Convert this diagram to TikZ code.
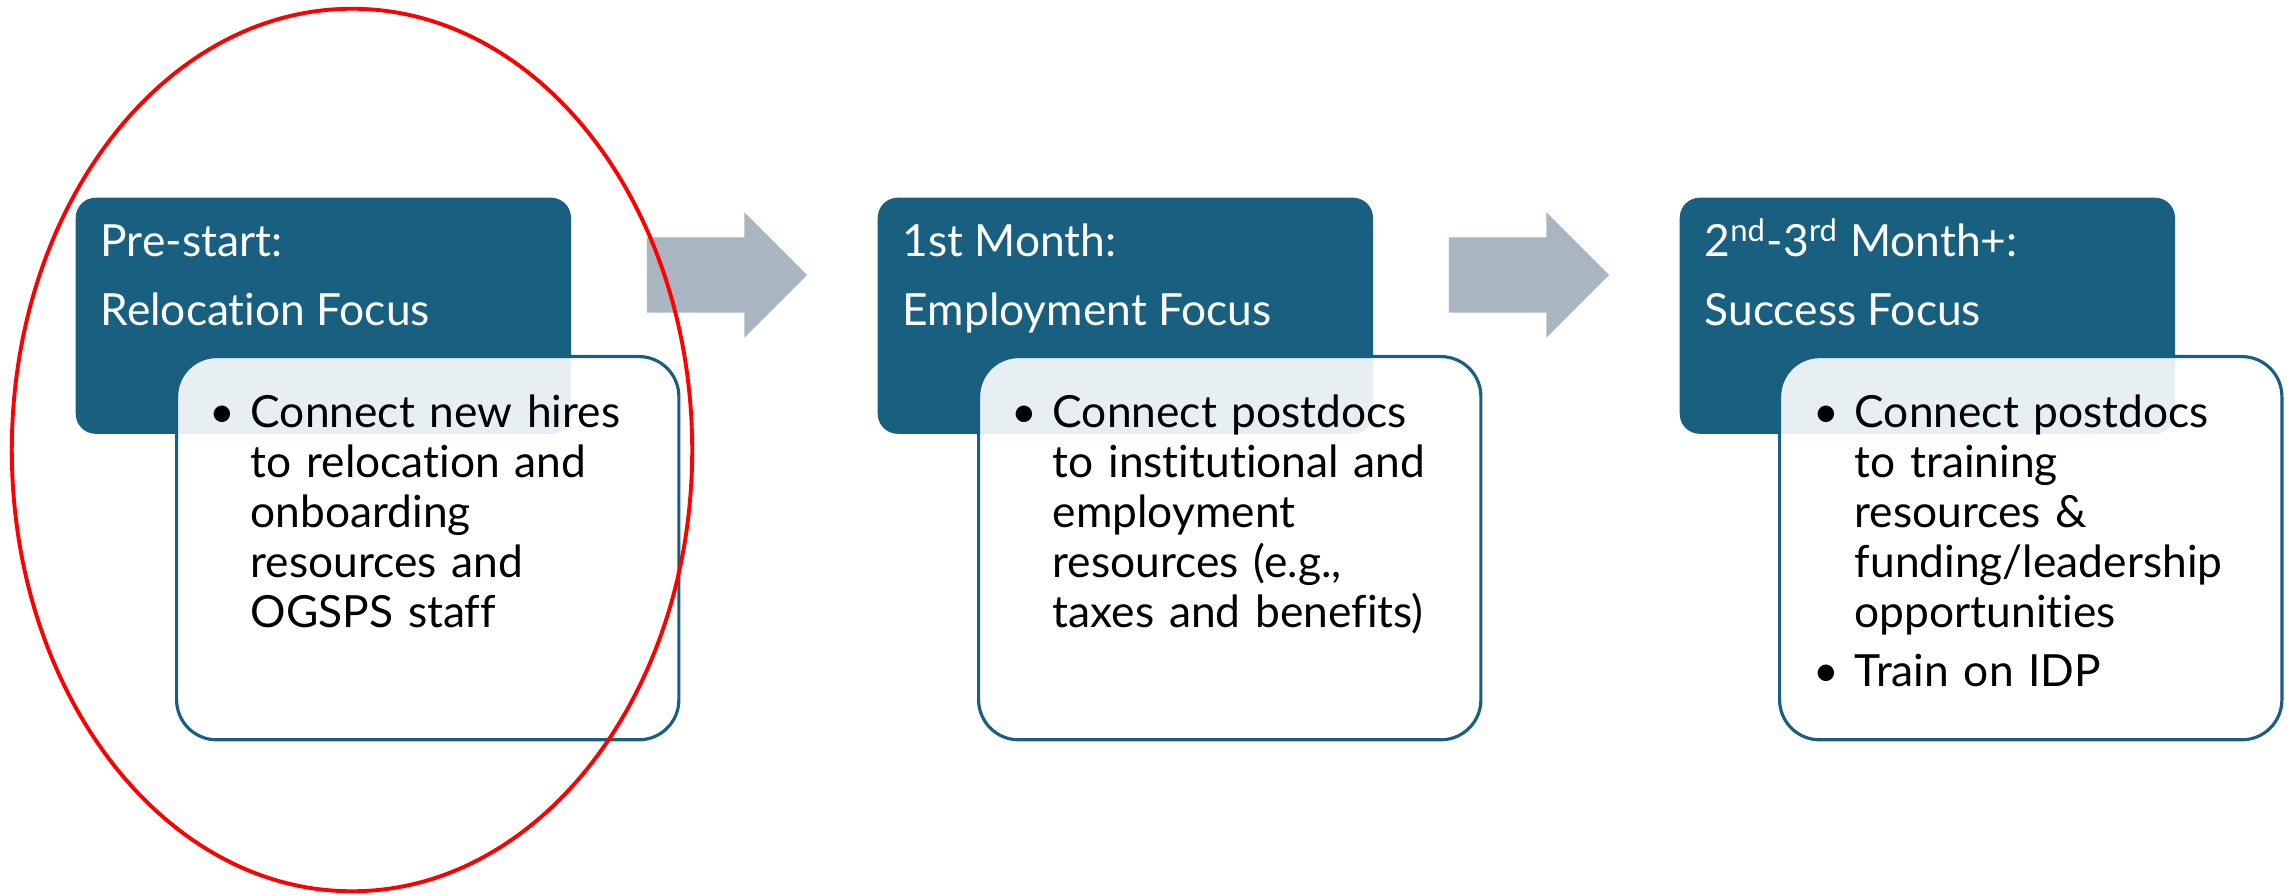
\documentclass[tikz,border=0pt]{standalone}
\usepackage{fontspec}
\setmainfont{Lato}[Ligatures=NoCommon]
\usepackage{xcolor}
\usetikzlibrary{shapes.geometric}
\usetikzlibrary{shapes.arrows}
\definecolor{stageblue}{HTML}{195F80}
\definecolor{arrowgray}{HTML}{A9B5C0}
\tikzset{headbox/.style={fill=stageblue,rounded corners=0.2cm,anchor=north west,
   minimum width=4.95cm,minimum height=2.36cm,inner sep=0pt},
 itembox/.style={draw=stageblue,line width=0.9pt,fill=white,fill opacity=0.9,
   rounded corners=0.4cm,anchor=north west,minimum width=5.02cm,minimum height=3.83cm,inner sep=0pt},
 headtext/.style={text=white,anchor=base west,inner sep=0pt,font=\fontsize{12.6}{13}\selectfont},
 itemtext/.style={anchor=base west,inner sep=0pt,align=left,text width=4.3cm,
   font=\fontsize{12.6}{14.2}\selectfont},
 dot/.style={anchor=base,inner sep=0pt,font=\fontsize{12.6}{14.2}\selectfont},
 steparrow/.style={single arrow,fill=arrowgray,inner xsep=0pt,inner ysep=0.37cm,
   minimum height=1.6cm,single arrow head extend=0.25cm,anchor=tip},
 }

\begin{document}
\begin{tikzpicture}[x=0.01cm,y=-0.01cm]
        \useasboundingbox (0,0) rectangle (2295,895);
        % pre-start
        \node [headbox] (pre) at (75,197) {};
        \node [headtext] (pretitle) at (100,257) {Pre-start:};
        \node [headtext] (prefocus) at (100,326) {Relocation Focus};
        \node [itembox] (prebox) at (175,355) {};
        \node [dot] (predot) at (222,428) {\textbullet};
        \node [itemtext] (preitems) at (250,428) {Connect new hires\\to relocation and\\onboarding\\resources and\\OGSPS staff};
        \node [steparrow] (arrowA) at (808,275) {};
        % first month
        \node [headbox] (first) at (877,197) {};
        \node [headtext] (firsttitle) at (902,257) {1st Month:};
        \node [headtext] (firstfocus) at (902,326) {Employment Focus};
        \node [itembox] (firstbox) at (977,355) {};
        \node [dot] (firstdot) at (1024,428) {\textbullet};
        \node [itemtext] (firstitems) at (1052,428) {Connect postdocs\\to institutional and\\employment\\resources (e.g.,\\taxes and benefits)};
        \node [steparrow] (arrowB) at (1610,275) {};
        % later months
        \node [headbox] (later) at (1679,197) {};
        \node [headtext] (latertitle) at (1704,257) {2\textsuperscript{nd}-3\textsuperscript{rd} Month+:};
        \node [headtext] (laterfocus) at (1704,326) {Success Focus};
        \node [itembox] (laterbox) at (1778,355) {};
        \node [dot] (laterdot) at (1826,428) {\textbullet};
        \node [itemtext] (lateritems) at (1854,428) {Connect postdocs\\to training\\resources \&\\funding/leadership\\opportunities};
        \node [dot] (laterdotb) at (1826,687) {\textbullet};
        \node [itemtext] (lateritemb) at (1854,687) {Train on IDP};
        % highlight
        \node [draw=red,line width=1.1pt,ellipse,minimum width=6.8cm,minimum height=8.82cm,inner sep=0pt] (focusring) at (352,450) {};
    \end{tikzpicture}
\end{document}
